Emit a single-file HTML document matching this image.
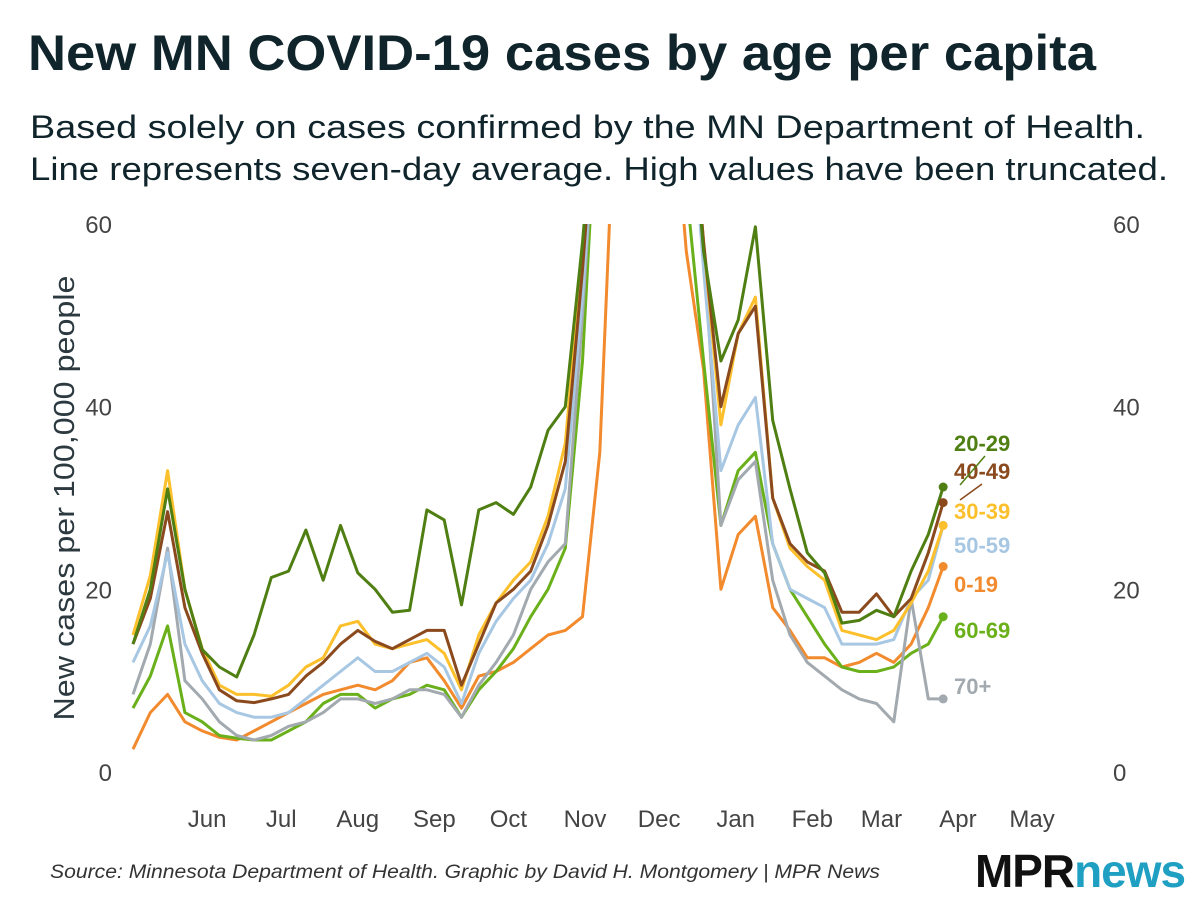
<!DOCTYPE html>
<html><head><meta charset="utf-8">
<style>
body{margin:0;background:#fff;width:1200px;height:900px;overflow:hidden;font-family:"Liberation Sans","DejaVu Sans",sans-serif}
</style></head>
<body>
<svg width="1200" height="900" xmlns="http://www.w3.org/2000/svg">
<defs><clipPath id="plotclip"><rect x="100" y="224" width="1000" height="560"/></clipPath></defs>
<text x="28" y="70" font-size="50" font-weight="bold" fill="#10242b" textLength="1068" lengthAdjust="spacingAndGlyphs">New MN COVID-19 cases by age per capita</text>
<text x="30" y="138" font-size="32" fill="#10242b" textLength="1115" lengthAdjust="spacingAndGlyphs">Based solely on cases confirmed by the MN Department of Health.</text>
<text x="30" y="180" font-size="32" fill="#10242b" textLength="1138" lengthAdjust="spacingAndGlyphs">Line represents seven-day average. High values have been truncated.</text>
<text transform="translate(74,498) rotate(-90)" text-anchor="middle" font-size="29" fill="#2c3a40" textLength="445" lengthAdjust="spacingAndGlyphs">New cases per 100,000 people</text>
<g id="yl"></g>
<g id="yr"></g>
<g id="xa"></g>
<g id="lines" clip-path="url(#plotclip)"></g>
<g id="dots"></g>
<g id="labels"></g>
<text x="50" y="878" font-size="19" font-style="italic" fill="#333" textLength="830" lengthAdjust="spacingAndGlyphs">Source: Minnesota Department of Health. Graphic by David H. Montgomery | MPR News</text>
<text x="975" y="887" font-size="46" font-weight="bold" fill="#111" letter-spacing="-1" textLength="210" lengthAdjust="spacingAndGlyphs">MPR<tspan fill="#1f9fc2">news</tspan></text>
</svg>
<script>
const days=[0,7,14,21,28,35,42,49,56,63,70,77,84,91,98,105,112,119,126,133,140,147,154,161,168,175,182,189,196,203,210,217,224,231,238,245,252,259,266,273,280,287,294,301,308,315,322,328];
const s0_19=[2.5,6.5,8.5,5.5,4.5,3.8,3.5,4.5,5.5,6.5,7.5,8.5,9,9.5,9,10,12,12.5,10,7,10.5,11,12,13.5,15,15.5,17,35,80,80,80,80,57,44,20,26,28,18,15.5,12.5,12.5,11.5,12,13,12,14,18,22.5];
const s20_29=[14,20,31,20,13.4,11.5,10.4,15,21.3,22,26.5,21,27,21.8,20,17.5,17.7,28.7,27.6,18.3,28.7,29.5,28.2,31.2,37.4,40,58,80,80,80,80,80,80,57,45,49.5,59.7,38.5,31,24,21.8,16.3,16.6,17.7,17,22,26,31.2];
const s30_39=[15,21.5,33,20,13.5,9.5,8.5,8.5,8.3,9.5,11.5,12.5,16,16.5,14,13.5,14,14.5,13,9,15,18.5,21,23,28,36,57,80,80,80,80,80,80,58,38,48,52,30,24.5,22.5,21,15.5,15,14.5,15.5,18.5,22,27];
const s40_49=[14,19,28.5,18,13,9,7.8,7.6,8,8.5,10.5,12,14,15.5,14.3,13.5,14.5,15.5,15.5,9.5,14,18.5,20,22,27,34,55,80,80,80,80,80,80,58,40,48,51,30,25,23,22,17.5,17.5,19.5,17,19,24,29.5];
const s50_59=[12,16,24,14,10,7.5,6.5,6,6,6.5,8,9.5,11,12.5,11,11,12,13,11.5,7.5,13,16.5,19,21,25,31,52,80,80,80,80,80,80,55,33,38,41,25,20,19,18,14,14,14,14.5,19,21,27];
const s60_69=[7,10.5,16,6.5,5.5,4,3.7,3.5,3.5,4.5,5.5,7.5,8.5,8.5,7,8,8.5,9.5,9,6,9,11,13.5,17,20,24.5,45,80,80,80,80,80,64,45,27,33,35,25,20,17,14,11.5,11,11,11.5,13,14,17];
const s70=[8.5,14,24.5,10,8,5.5,4,3.5,4,5,5.5,6.5,8,8,7.5,8,9,9,8.5,6,9.5,12,15,20,23,25,50,80,80,80,80,80,80,58,27,32,34,21,15,12,10.5,9,8,7.5,5.5,19,8,8];
const yTicks=[0,20,40,60];
const monthLabels=["Jun","Jul","Aug","Sep","Oct","Nov","Dec","Jan","Feb","Mar","Apr","May"];
const monthDays=[30,60,91,122,152,183,213,244,275,303,334,364];
const NS="http://www.w3.org/2000/svg";
const X=d=>133+d*2.47;
const Y=v=>772-v*9.133;
const series=[
 {n:"0-19",d:s0_19,c:"#f28a2e",ly:584},
 {n:"60-69",d:s60_69,c:"#6ab01a",ly:630},
 {n:"70+",d:s70,c:"#a2aab0",ly:686},
 {n:"50-59",d:s50_59,c:"#a7c7e3",ly:545},
 {n:"30-39",d:s30_39,c:"#fcc02c",ly:511},
 {n:"40-49",d:s40_49,c:"#8b4a1e",ly:471},
 {n:"20-29",d:s20_29,c:"#4f7f12",ly:443}];
function mk(tag,attrs,parent){const e=document.createElementNS(NS,tag);for(const k in attrs)e.setAttribute(k,attrs[k]);parent.appendChild(e);return e;}
const yl=document.getElementById('yl'),yr=document.getElementById('yr'),xa=document.getElementById('xa');
yTicks.forEach(t=>{
 const a=mk('text',{x:112,y:Y(t)+9,'text-anchor':'end','font-size':24,fill:'#444'},yl);a.textContent=t;
 
 
 const b=mk('text',{x:1113,y:Y(t)+9,'font-size':24,fill:'#444'},yr);b.textContent=t;
 
 
});
monthLabels.forEach((m,i)=>{
 const t=mk('text',{x:X(monthDays[i]),y:827,'text-anchor':'middle','font-size':24,fill:'#444'},xa);t.textContent=m;
 
 
});
const lg=document.getElementById('lines'),dg=document.getElementById('dots'),lb=document.getElementById('labels');
series.forEach(s=>{
 const p=s.d.map((v,i)=>(i?'L':'M')+X(days[i]).toFixed(1)+','+Y(v).toFixed(1)).join(' ');
 const path=mk('path',{d:p,fill:'none',stroke:s.c,'stroke-width':3,'stroke-linejoin':'round'},lg);
 
 
 const li=s.d.length-1;
 const c=mk('circle',{cx:X(days[li]),cy:Y(s.d[li]),r:4.5,fill:s.c},dg);
 
 
 const t=mk('text',{x:954,y:s.ly+8,'font-size':22,'font-weight':'bold',fill:s.c},lb);t.textContent=s.n;
 
 
});
const l1=mk('line',{x1:960,y1:485,x2:985,y2:456,stroke:'#4f7f12','stroke-width':1.5},lb);


const l2=mk('line',{x1:960,y1:500,x2:982,y2:484,stroke:'#8b4a1e','stroke-width':1.5},lb);


</script>
</body></html>
